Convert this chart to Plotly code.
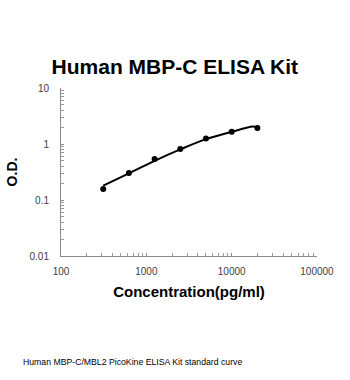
import plotly.graph_objects as go

conc = [312.5, 625, 1250, 2500, 5000, 10000, 20000]
od = [0.157, 0.303, 0.538, 0.815, 1.26, 1.66, 1.93]

curve_x = [312.5, 625, 1250, 2500, 5000, 10000, 15000, 17500, 20000]
curve_y = [0.18, 0.30, 0.50, 0.80, 1.22, 1.65, 1.95, 2.05, 2.0]

fig = go.Figure()
fig.add_trace(go.Scatter(x=curve_x, y=curve_y, mode="lines",
                         line=dict(color="black", width=2, shape="spline"),
                         hoverinfo="skip", showlegend=False))
fig.add_trace(go.Scatter(x=conc, y=od, mode="markers",
                         marker=dict(color="black", size=6), showlegend=False))

axis_common = dict(
    type="log", showgrid=False, zeroline=False, showline=True,
    linecolor="#8a8a8a", linewidth=1, ticks="inside", ticklen=3,
    tickcolor="#8a8a8a", tickfont=dict(family="Arial", size=10, color="#404040"),
    minor=dict(ticks="inside", ticklen=3, tickcolor="#9a9a9a", showgrid=False,
               dtick="D1"),
)

fig.update_layout(
    width=350, height=380,
    margin=dict(l=55, r=33, t=88, b=124),
    paper_bgcolor="white", plot_bgcolor="white",
    title=dict(text="<b>Human MBP-C ELISA Kit</b>", x=(171.5 - 55) / 262, xref="paper",
               xanchor="center", y=1 - 67 / 380, yanchor="middle",
               font=dict(family="Arial", size=21, color="black")),
    xaxis=dict(axis_common, range=[2, 5], dtick=1, tickformat="d",
               ticklabelstandoff=6,
               title=dict(text="<b>Concentration(pg/ml)</b>", standoff=10,
                          font=dict(family="Arial", size=15, color="black"))),
    yaxis=dict(axis_common, range=[-2, 1], dtick=1,
               tickvals=[0.01, 0.1, 1, 10], ticktext=["0.01", "0.1", "1", "10"],
               ticklabelstandoff=9,
               title=dict(text="<b>O.D.</b>", standoff=8,
                          font=dict(family="Arial", size=14, color="black"))),
    annotations=[dict(text="Human MBP-C/MBL2 PicoKine ELISA Kit standard curve",
                      xref="paper", yref="paper", x=(14 - 55) / 262, y=-(362 - 256) / 168,
                      xanchor="left", yanchor="middle", showarrow=False,
                      font=dict(family="Liberation Sans", size=8.7, color="black"))],
)

fig.write_html("out.html")
